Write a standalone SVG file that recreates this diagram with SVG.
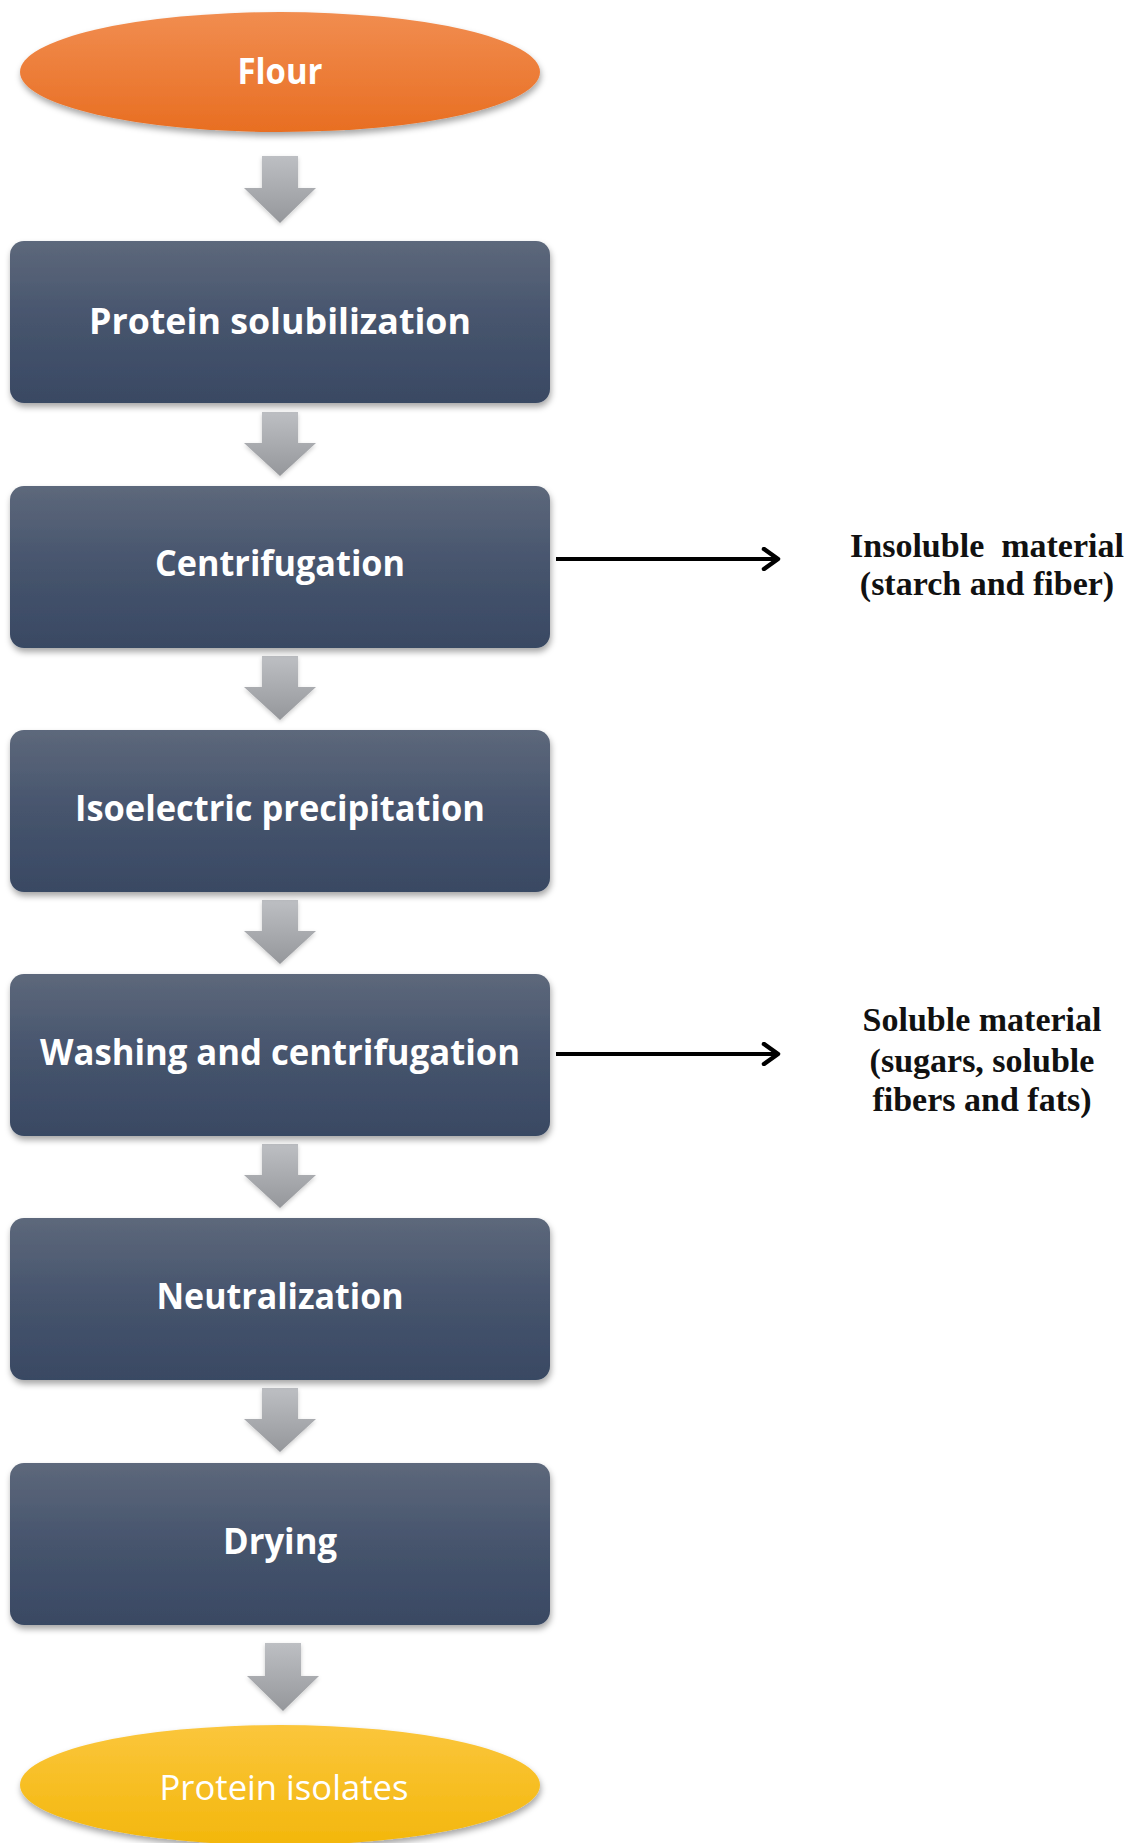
<svg xmlns="http://www.w3.org/2000/svg" width="1130" height="1843" viewBox="0 0 1130 1843">
<style>
.box{fill:url(#boxGrad);filter:url(#shadow)}
.btxt{font-family:"Open Sans","Liberation Sans",sans-serif;font-weight:bold;font-size:35px;fill:#ffffff;text-anchor:middle}
.etxt{font-family:"Open Sans","Liberation Sans",sans-serif;font-size:35px;fill:#ffffff;text-anchor:middle}
.gray{fill:url(#arrGrad);filter:url(#shadow2)}
.side{stroke:#000;stroke-width:4;fill:none}
.lbl{font-family:"Liberation Serif","Times New Roman",serif;font-weight:bold;font-size:34px;fill:#111;text-anchor:middle}
</style>
<defs>
<linearGradient id="boxGrad" x1="0" y1="0" x2="0" y2="1">
<stop offset="0" stop-color="#5d687b"/>
<stop offset="0.5" stop-color="#46546d"/>
<stop offset="1" stop-color="#394963"/>
</linearGradient>
<linearGradient id="flourGrad" x1="0" y1="0" x2="0" y2="1">
<stop offset="0" stop-color="#f18d50"/>
<stop offset="1" stop-color="#e86e22"/>
</linearGradient>
<linearGradient id="isoGrad" x1="0" y1="0" x2="0" y2="1">
<stop offset="0" stop-color="#fbc63c"/>
<stop offset="1" stop-color="#f3b70c"/>
</linearGradient>
<linearGradient id="arrGrad" x1="0" y1="0" x2="0" y2="1">
<stop offset="0" stop-color="#bdbfc3"/>
<stop offset="1" stop-color="#95979b"/>
</linearGradient>
<filter id="shadow" x="-5%" y="-5%" width="112%" height="115%">
<feDropShadow dx="1" dy="4" stdDeviation="3" flood-color="#000" flood-opacity="0.35"/>
</filter>
<filter id="shadow2" x="-20%" y="-20%" width="140%" height="140%">
<feDropShadow dx="0" dy="2" stdDeviation="2" flood-color="#000" flood-opacity="0.2"/>
</filter>
<marker id="chev" viewBox="0 0 20 24" refX="17" refY="12" markerWidth="20" markerHeight="24" markerUnits="userSpaceOnUse" orient="auto">
<path d="M3,2 L17,12 L3,22" fill="none" stroke="#000" stroke-width="4.5" stroke-linecap="round" stroke-linejoin="round"/>
</marker>
</defs>
<rect width="1130" height="1843" fill="#ffffff"/>

<g id="connectors">
<path class="gray" d="M262,156 H298 V188 H316 L280,223 L244,188 H262 Z"/>
<path class="gray" d="M262,412 H298 V443 H316 L280,476 L244,443 H262 Z"/>
<path class="gray" d="M262,656 H298 V687 H316 L280,720 L244,687 H262 Z"/>
<path class="gray" d="M262,900 H298 V931 H316 L280,964 L244,931 H262 Z"/>
<path class="gray" d="M262,1144 H298 V1175 H316 L280,1208 L244,1175 H262 Z"/>
<path class="gray" d="M262,1388 H298 V1419 H316 L280,1452 L244,1419 H262 Z"/>
<path class="gray" d="M265,1643 H301 V1676 H319 L283,1711 L247,1676 H265 Z"/>
<line class="side" x1="556" y1="559" x2="778" y2="559" marker-end="url(#chev)"/>
<line class="side" x1="556" y1="1054" x2="778" y2="1054" marker-end="url(#chev)"/>
</g>

<g id="flour">
<ellipse cx="280" cy="72" rx="260" ry="60" fill="url(#flourGrad)" filter="url(#shadow)"/>
<text class="btxt" x="280" y="84" textLength="85" lengthAdjust="spacingAndGlyphs">Flour</text>
</g>
<g id="protein-solubilization">
<rect class="box" x="10" y="241" width="540" height="162" rx="14"/>
<text class="btxt" x="280" y="334" textLength="382" lengthAdjust="spacingAndGlyphs">Protein solubilization</text>
</g>
<g id="centrifugation">
<rect class="box" x="10" y="486" width="540" height="162" rx="14"/>
<text class="btxt" x="280" y="576" textLength="250" lengthAdjust="spacingAndGlyphs">Centrifugation</text>
</g>
<g id="isoelectric-precipitation">
<rect class="box" x="10" y="730" width="540" height="162" rx="14"/>
<text class="btxt" x="280" y="821" textLength="410" lengthAdjust="spacingAndGlyphs">Isoelectric precipitation</text>
</g>
<g id="washing-centrifugation">
<rect class="box" x="10" y="974" width="540" height="162" rx="14"/>
<text class="btxt" x="280" y="1065" textLength="480" lengthAdjust="spacingAndGlyphs">Washing and centrifugation</text>
</g>
<g id="neutralization">
<rect class="box" x="10" y="1218" width="540" height="162" rx="14"/>
<text class="btxt" x="280" y="1309" textLength="247" lengthAdjust="spacingAndGlyphs">Neutralization</text>
</g>
<g id="drying">
<rect class="box" x="10" y="1463" width="540" height="162" rx="14"/>
<text class="btxt" x="280" y="1554" textLength="114" lengthAdjust="spacingAndGlyphs">Drying</text>
</g>
<g id="protein-isolates">
<ellipse cx="280" cy="1785" rx="260" ry="60" fill="url(#isoGrad)" filter="url(#shadow)"/>
<text class="etxt" x="284" y="1800" textLength="249" lengthAdjust="spacingAndGlyphs">Protein isolates</text>
</g>
<g id="insoluble-label">
<text class="lbl" x="987" y="557" xml:space="preserve">Insoluble  material</text>
<text class="lbl" x="987" y="595">(starch and fiber)</text>
</g>
<g id="soluble-label">
<text class="lbl" x="982" y="1031">Soluble material</text>
<text class="lbl" x="982" y="1072">(sugars, soluble</text>
<text class="lbl" x="982" y="1111">fibers and fats)</text>
</g>
</svg>
